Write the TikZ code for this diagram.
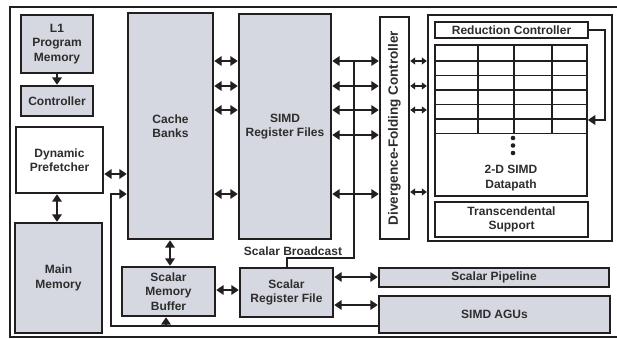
\documentclass[tikz,border=0pt]{standalone}
\usepackage{fontspec}
\setmainfont{Liberation Sans}
\usetikzlibrary{arrows.meta,fit,calc}
\definecolor{grayf}{RGB}{213,216,224}
\definecolor{linec}{RGB}{35,31,32}
\definecolor{txtc}{RGB}{45,45,45}
\begin{document}
\begin{tikzpicture}[x=1pt,y=-1pt,
  lbl/.style={font=\fontsize{12}{14.5}\selectfont\bfseries, text=txtc, align=center, inner sep=0pt},
  blk/.style={draw=linec, line width=2.4pt, inner sep=0pt},
  gblk/.style={blk, fill=grayf},
  wblk/.style={blk, fill=white},
  thin/.style={draw=linec, line width=1.6pt, inner sep=0pt, fill=white},
  dbl/.style={draw=linec, line width=2pt, {Triangle[length=7.5pt,width=9.5pt]}-{Triangle[length=7.5pt,width=9.5pt]}},
  one/.style={draw=linec, line width=2pt, -{Triangle[length=7.5pt,width=9.5pt]}},
  sdbl/.style={draw=linec, line width=1.8pt, {Triangle[length=5pt,width=7pt]}-{Triangle[length=5pt,width=7pt]}},
  wire/.style={draw=linec, line width=2pt},
  gridl/.style={draw=linec, line width=1.1pt}
]
\useasboundingbox (0,0) rectangle (617,339);
% outer frame
\draw[draw=linec, line width=2pt] (620,7) -- (10,7) -- (10,337) -- (620,337);

% left column
\node[gblk, fit={(21,15) (93,73)}] (l1) {};
\node[lbl] (l1t) at (l1.center) {L1\\Program\\Memory};
\node[gblk, fit={(21,86) (93,116)}] (ctrl) {};
\node[lbl] (ctrlt) at (ctrl.center) {Controller};
\node[wblk, fit={(16,127) (103,193)}] (pref) {};
\node[lbl] (preft) at (pref.center) {Dynamic\\Prefetcher};
\node[gblk, fit={(15,223) (102,333)}] (mem) {};
\node[lbl] (memt) at (mem.center) {Main\\Memory};

% central blocks
\node[gblk, fit={(128,13) (213,239)}] (cache) {};
\node[lbl] (cachet) at (cache.center) {Cache\\Banks};
\node[gblk, fit={(239,14) (331,239)}] (simd) {};
\node[lbl] (simdt) at (simd.center) {SIMD\\Register Files};
\node[wblk, fit={(380,17) (409,239)}] (dfc) {};
\node[lbl, rotate=90, font=\fontsize{13.5}{14}\selectfont\bfseries] (dfct) at (dfc.center) {Divergence-Folding Controller};

% big datapath container
\node[wblk, fit={(428,15) (612,241)}] (big) {};
\node[thin, fit={(435,22) (588,38)}] (red) {};
\node[lbl] (redt) at (red.center) {Reduction Controller};
\node[thin, fit={(435,45) (587,196)}] (dp) {};
\node[thin, fit={(435,202) (588,237)}] (trans) {};
\node[lbl] (transt) at (trans.center) {Transcendental\\Support};
% grid
\foreach \yy in {61,75.5,90,104.5,119,133.5} \draw[gridl] (dp.west |- 0,\yy) -- (dp.east |- 0,\yy);
\foreach \xx in {478,514,552} \draw[gridl] (\xx,0 |- dp.north) -- (\xx,133.5);
\foreach \yy in {138,145.5,153} \fill[linec] (513,\yy) circle (2.3pt);
\node[lbl] (dpt) at (511,178) {2-D SIMD\\Datapath};

% bottom blocks
\node[gblk, fit={(122,267) (215,316)}] (smb) {};
\node[lbl] (smbt) at (smb.center) {Scalar\\Memory\\Buffer};
\node[gblk, fit={(240,268) (333,317)}] (srf) {};
\node[lbl] (srft) at (srf.center) {Scalar\\Register File};
\node[gblk, fit={(379,268) (609,287)}] (sp) {};
\node[lbl] (spt) at (sp.center) {Scalar Pipeline};
\node[gblk, fit={(379,296) (610,333)}] (agu) {};
\node[lbl] (agut) at (agu.center) {SIMD AGUs};

% helper rows
\foreach \nm/\yy in {ya/61,yb/86,yc/110,yd/135,ye/194,yf/192,yg/174,yh/290,yi/277,yj/305,yk/326,yl/30,ym/120,yn/258}
  \coordinate (\nm) at (0,\yy);
\coordinate (xb) at (354,0);
\coordinate (xs) at (287,0);
\coordinate (xl) at (111,0);
\coordinate (xm) at (166,0);
\coordinate (xr) at (605,0);
\coordinate (xv) at (170,0);
\coordinate (xp) at (57,0);

% connectors
\draw[one] (l1.south) -- (ctrl.north);
\draw[dbl] (xp |- pref.south) -- (xp |- mem.north);
\draw[dbl] (pref.east |- yg) -- (cache.west |- yg);
\foreach \r in {ya,yb,yc,ye} \draw[dbl] (cache.east |- \r) -- (simd.west |- \r);
\foreach \r in {ya,yb,yc,yd,ye} \draw[dbl] (simd.east |- \r) -- (dfc.west |- \r);
\foreach \r in {ya,yb,yc,yf} \draw[sdbl] (dfc.east |- \r) -- (big.west |- \r);
\draw[dbl] (xv |- cache.south) -- (xv |- smb.north);
\draw[dbl] (smb.east |- yh) -- (srf.west |- yh);
\draw[dbl] (srf.east |- yi) -- (sp.west |- yi);
\draw[dbl] (srf.east |- yj) -- (agu.west |- yj);
% scalar broadcast
\draw[wire] (xs |- srf.north) -- (xs |- yn) -- (xb |- yn) -- (xb |- ya);
\node[lbl, anchor=south] (sbt) at (293,256) {Scalar Broadcast};
% AGU feedback to cache / SMB
\draw[one] (agu.west |- yk) -- (xl |- yk) -- (xl |- ye) -- (cache.west |- ye);
\draw[one] (xm |- yk) -- (xm |- smb.south);
% reduction controller feedback
\draw[one] (red.east) -- (xr |- yl) -- (xr |- ym) -- (dp.east |- ym);
\end{tikzpicture}
\end{document}
